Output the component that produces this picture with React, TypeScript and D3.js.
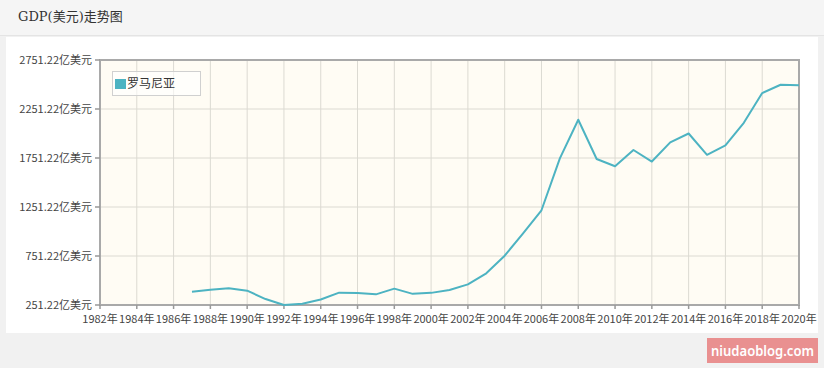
import React from "react";
import * as d3 from "d3";

const years: number[] = [1987,1988,1989,1990,1991,1992,1993,1994,1995,1996,1997,1998,1999,2000,2001,2002,2003,2004,2005,2006,2007,2008,2009,2010,2011,2012,2013,2014,2015,2016,2017,2018,2019,2020];
const gdp: number[] = [387,407,421,397,312,251.22,264,307,377,374,360,418,365,375,404,462,575,754,983,1218,1748,2142,1741,1667,1833,1715,1911,2001,1784,1879,2110,2414,2499,2493];
const xTickYears: number[] = [1982,1984,1986,1988,1990,1992,1994,1996,1998,2000,2002,2004,2006,2008,2010,2012,2014,2016,2018,2020];
const yTicks: number[] = [251.22,751.22,1251.22,1751.22,2251.22,2751.22];
const seriesName = "罗马尼亚";
const title = "GDP(美元)走势图";
const watermark = "niudaoblog.com";

const W = 824, H = 368;
const L = 100, R = 799, T = 60, B = 305;
const FONT = "'Noto Sans CJK SC', 'Noto Sans', sans-serif";
const LINE = "#4db3c2";

export default function App() {
  const x = d3.scaleLinear().domain([1982, 2020]).range([L, R]);
  const y = d3.scaleLinear().domain([251.22, 2751.22]).range([B, T]);
  const line = d3.line<number>().x((_, i) => x(years[i])).y((d) => y(d));
  const path = line(gdp) || "";
  return (
    <div style={{ position: "fixed", left: 0, top: 0 }}>
      <svg width={W} height={H} style={{ display: "block" }}>
        <rect x={0} y={0} width={W} height={H} fill="#f1f1f1" />
        <rect x={0} y={0} width={W} height={35} fill="#f5f5f5" />
        <line x1={0} x2={W} y1={35.5} y2={35.5} stroke="#e4e4e4" />
        <text x={18} y={21} fontSize={13} fill="#333" fontFamily="'DejaVu Serif', 'Noto Sans CJK SC', serif">{title}</text>
        <rect x={6} y={37} width={812} height={296} fill="#ffffff" />
        <rect x={L} y={T} width={R - L} height={B - T} fill="#fffcf4" />
        {yTicks.map((t) => (
          <line key={"hg" + t} x1={L} x2={R} y1={y(t)} y2={y(t)} stroke="#dcdad2" strokeWidth={1} />
        ))}
        {xTickYears.map((t) => (
          <line key={"vg" + t} x1={x(t)} x2={x(t)} y1={T} y2={B} stroke="#dcdad2" strokeWidth={1} />
        ))}
        <rect x={L} y={T} width={R - L} height={B - T} fill="none" stroke="#a9a9a9" strokeWidth={2} />
        {yTicks.map((t) => (
          <g key={"yt" + t}>
            <line x1={L - 5} x2={L} y1={y(t)} y2={y(t)} stroke="#999" strokeWidth={1.5} />
            <text x={L - 8} y={y(t)} dy="0.35em" textAnchor="end" fontSize={11} fill="#444" fontFamily={FONT}>{t.toFixed(2)}亿美元</text>
          </g>
        ))}
        {xTickYears.map((t) => (
          <g key={"xt" + t}>
            <line x1={x(t)} x2={x(t)} y1={B} y2={B + 4} stroke="#999" strokeWidth={1.5} />
            <text x={x(t)} y={B + 18} textAnchor="middle" fontSize={11} fill="#444" fontFamily={FONT}>{t}年</text>
          </g>
        ))}
        <path d={path} fill="none" stroke={LINE} strokeWidth={2} strokeLinejoin="round" />
        <rect x={112.5} y={71.5} width={88} height={24} fill="#ffffff" fillOpacity={0.6} stroke="#d0d0d0" />
        <rect x={115} y={79} width={11} height={10} fill={LINE} />
        <text x={127} y={84} dy="0.35em" fontSize={12} fill="#333" fontFamily={FONT}>{seriesName}</text>
        <rect x={707} y={338} width={111} height={25} fill="#e99090" />
        <text x={711} y={351} dy="0.35em" fontSize={14} fontWeight={600} textLength={103} lengthAdjust="spacingAndGlyphs" fill="#ffffff" fontFamily="'Noto Sans', 'DejaVu Sans', sans-serif">{watermark}</text>
      </svg>
    </div>
  );
}
